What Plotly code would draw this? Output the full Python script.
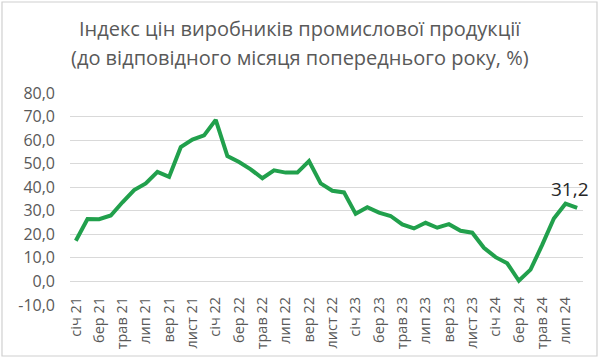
import plotly.graph_objects as go

months_ua = ["січ", "лют", "бер", "квіт", "трав", "черв", "лип", "серп", "вер", "жовт", "лист", "груд"]
categories = []
for yr in ["21", "22", "23", "24"]:
    for m in months_ua:
        categories.append(f"{m} {yr}")
categories = categories[:44]  # січ 21 .. серп 24

values = [
    17.3, 26.5, 26.4, 28.0, 33.6, 38.8, 41.6, 46.5, 44.4, 57.0, 60.2, 62.0,
    68.6, 53.2, 50.7, 47.6, 43.8, 47.2, 46.2, 46.2, 51.1, 41.6, 38.5, 37.8,
    28.7, 31.5, 29.2, 27.8, 24.2, 22.5, 24.9, 22.8, 24.3, 21.5, 20.7, 14.3,
    10.3, 7.7, 0.3, 5.0, 15.5, 26.7, 33.0, 31.2,
]

y_tickvals = [-10, 0, 10, 20, 30, 40, 50, 60, 70, 80]
y_ticktext = ["-10,0", "0,0", "10,0", "20,0", "30,0", "40,0", "50,0", "60,0", "70,0", "80,0"]
x_tickvals = categories[::2]

title_lines = ["Індекс цін виробників промислової продукції",
               "(до відповідного місяця попереднього року, %)"]
last_label = "31,2"

GREY = "#595959"
FONT = "Open Sans"

L, R, T, B = 70, 17, 93, 55
W, H = 600, 360
pw, ph = W - L - R, H - T - B


def py(ypix):
    return (H - B - ypix) / ph


def px(xpix):
    return (xpix - L) / pw


fig = go.Figure()
fig.add_trace(go.Scatter(
    x=categories, y=values, mode="lines",
    line=dict(color="#21a04c", width=4),
    hoverinfo="skip", showlegend=False,
))

fig.add_annotation(
    x=categories[-1], y=values[-1], text=last_label, showarrow=False,
    xshift=-7, yshift=19, font=dict(family=FONT, size=19, color="#262626"),
)

for line, ypix in zip(title_lines, [28, 57]):
    fig.add_annotation(
        x=px(300), y=py(ypix), xref="paper", yref="paper", text=line,
        showarrow=False, xanchor="center", yanchor="middle",
        font=dict(family=FONT, size=20, color=GREY),
    )

# outer chart border
fig.add_shape(
    type="rect", xref="paper", yref="paper",
    x0=px(2), x1=px(597), y0=py(356), y1=py(2),
    line=dict(color="#d0d0d0", width=1.2), layer="above",
)

fig.update_layout(
    width=W, height=H,
    margin=dict(l=L, r=R, t=T, b=B),
    paper_bgcolor="white", plot_bgcolor="white",
    font=dict(family=FONT, color=GREY),
)

fig.update_xaxes(
    type="category", range=[-0.5, len(categories) - 0.5],
    tickmode="array", tickvals=x_tickvals, ticktext=x_tickvals,
    tickangle=-90, tickfont=dict(family=FONT, size=14.5, color=GREY),
    showgrid=False, showline=False, zeroline=False, ticks="",
    ticklabelstandoff=-12, automargin=False,
)
fig.update_yaxes(
    range=[-10, 80], tickmode="array", tickvals=y_tickvals, ticktext=y_ticktext,
    tickfont=dict(family=FONT, size=16, color=GREY),
    showgrid=True, gridcolor="#d9d9d9", gridwidth=1,
    zeroline=False, showline=False, ticks="", ticklabelstandoff=14,
    automargin=False,
)

fig.write_html("out.html", config={"displayModeBar": False},
               post_script="document.body.style.margin='0';")
